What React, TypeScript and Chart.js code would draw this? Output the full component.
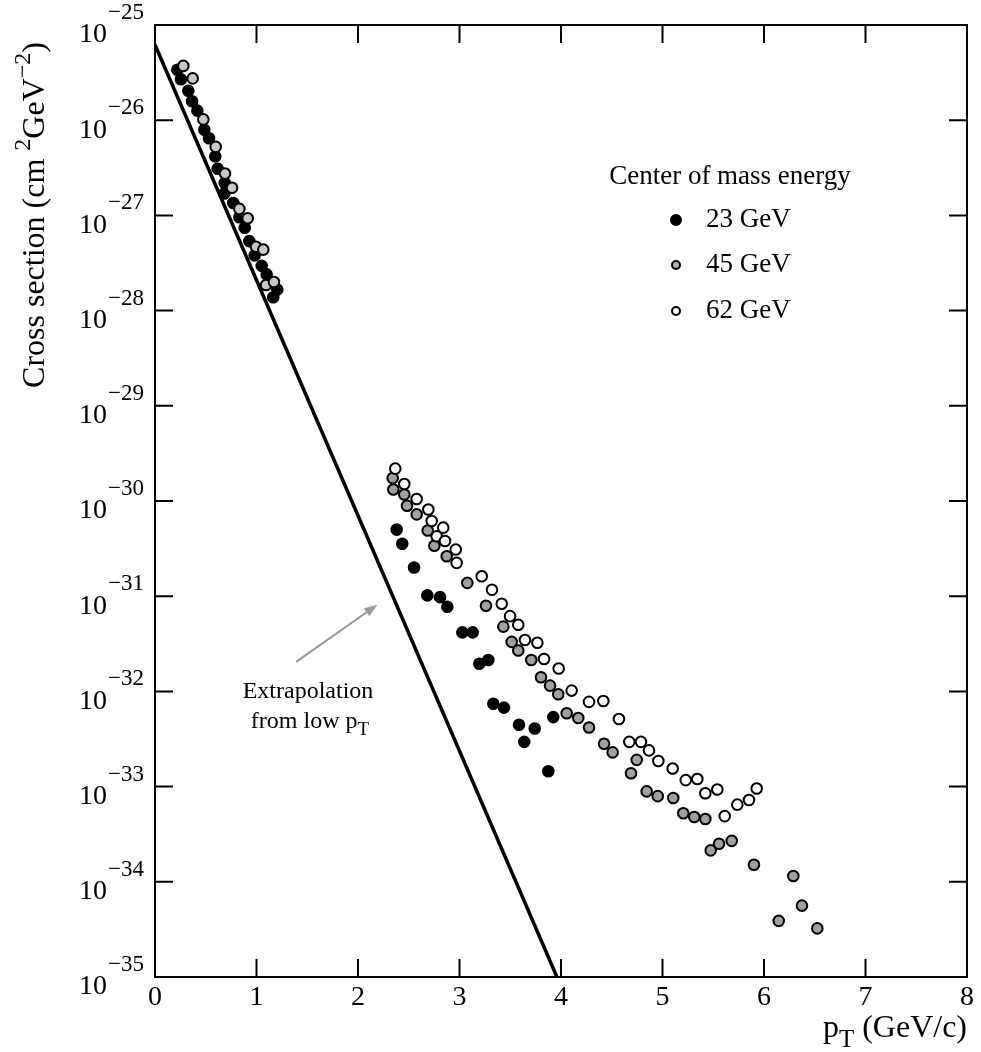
import React, { useEffect, useRef } from "react";
import { Chart, registerables } from "chart.js";

Chart.register(...registerables);

const FONT = '"Liberation Serif", "Times New Roman", serif';

// 23 GeV (filled black)
const pt23 = [0.22, 0.256, 0.328, 0.365, 0.417, 0.486, 0.532, 0.594, 0.618, 0.687, 0.683, 0.771, 0.831, 0.884, 0.929, 0.982, 1.051, 1.10, 1.15, 1.205, 1.165,
  2.381, 2.436, 2.552, 2.683, 2.808, 2.880, 3.028, 3.130, 3.195, 3.284, 3.333, 3.438, 3.586, 3.741, 3.638, 3.924, 3.875];
const sigma23 = [3.39e-26, 2.69e-26, 2.04e-26, 1.58e-26, 1.26e-26, 7.94e-27, 6.46e-27, 4.17e-27, 3.09e-27, 2.19e-27, 1.70e-27, 1.35e-27, 9.55e-28, 7.41e-28, 5.37e-28, 3.80e-28, 2.95e-28, 2.40e-28, 1.95e-28, 1.66e-28, 1.38e-28,
  5.01e-31, 3.55e-31, 2.00e-31, 1.02e-31, 9.77e-32, 7.76e-32, 4.17e-32, 4.17e-32, 1.95e-32, 2.14e-32, 7.41e-33, 6.76e-33, 4.47e-33, 4.07e-33, 2.95e-33, 5.37e-33, 1.45e-33];

// 45 GeV (grey)
const pt45 = [0.279, 0.371, 0.476, 0.598, 0.690, 0.759, 0.831, 0.913, 0.995, 1.067, 1.094, 1.172,
  2.342, 2.348, 2.456, 2.483, 2.578, 2.687, 2.752, 2.874, 3.077, 3.261, 3.432, 3.514, 3.579, 3.707, 3.803, 3.892, 3.973, 4.056, 4.170, 4.276, 4.424, 4.509, 4.690, 4.746, 4.844, 4.953, 5.106, 5.205, 5.313, 5.422, 5.475, 5.557, 5.682, 5.901, 6.145, 6.289, 6.374, 6.525];
const sigma45 = [3.72e-26, 2.75e-26, 1.02e-26, 5.25e-27, 2.75e-27, 1.95e-27, 1.17e-27, 9.33e-28, 4.68e-28, 4.37e-28, 1.86e-28, 2.00e-28,
  1.74e-30, 1.32e-30, 1.17e-30, 8.91e-31, 7.24e-31, 4.90e-31, 3.39e-31, 2.63e-31, 1.38e-31, 7.94e-32, 4.79e-32, 3.31e-32, 2.69e-32, 2.14e-32, 1.41e-32, 1.15e-32, 9.33e-33, 5.89e-33, 5.25e-33, 4.17e-33, 2.82e-33, 2.29e-33, 1.38e-33, 1.91e-33, 8.91e-34, 7.94e-34, 7.59e-34, 5.25e-34, 4.79e-34, 4.57e-34, 2.14e-34, 2.51e-34, 2.69e-34, 1.51e-34, 3.89e-35, 1.15e-34, 5.62e-35, 3.24e-35];

// 62 GeV (open)
const pt62 = [2.367, 2.456, 2.578, 2.693, 2.726, 2.840, 2.775, 2.857, 2.963, 2.972, 3.219, 3.320, 3.416, 3.498, 3.579, 3.645, 3.767, 3.833, 3.977, 4.105, 4.276, 4.417, 4.571, 4.673, 4.788, 4.867, 4.959, 5.100, 5.229, 5.343, 5.422, 5.540, 5.613, 5.737, 5.852, 5.928];
const sigma62 = [2.19e-30, 1.51e-30, 1.05e-30, 8.13e-31, 6.17e-31, 5.25e-31, 4.27e-31, 3.80e-31, 3.09e-31, 2.24e-31, 1.62e-31, 1.17e-31, 8.32e-32, 6.17e-32, 5.01e-32, 3.47e-32, 3.24e-32, 2.19e-32, 1.74e-32, 1.02e-32, 7.76e-33, 7.94e-33, 5.13e-33, 2.95e-33, 2.95e-33, 2.40e-33, 1.86e-33, 1.55e-33, 1.17e-33, 1.20e-33, 8.51e-34, 9.33e-34, 4.90e-34, 6.46e-34, 7.24e-34, 9.55e-34];

// Extrapolation line from low pT
const extrapPt = [0, 3.96];
const extrapSigma = [6.2e-26, 1e-35];

// Arrow (tail -> head) in data coordinates
const arrowPt = [1.39, 2.19];
const arrowSigma = [2.04e-32, 8.13e-32];

const xTickValues = [0, 1, 2, 3, 4, 5, 6, 7, 8];
const xTickLabels = ["0", "1", "2", "3", "4", "5", "6", "7", "8"];
const yTickValues = [1e-25, 1e-26, 1e-27, 1e-28, 1e-29, 1e-30, 1e-31, 1e-32, 1e-33, 1e-34, 1e-35];
const yTickExponents = ["\u221225", "\u221226", "\u221227", "\u221228", "\u221229", "\u221230", "\u221231", "\u221232", "\u221233", "\u221234", "\u221235"];

const legendLabels = ["23 GeV", "45 GeV", "62 GeV"];
const legendFills = ["#000000", "#b0b0b0", "#ffffff"];

type Part = { text: string; size: number; dy: number };

function partsWidth(ctx: CanvasRenderingContext2D, parts: Part[]) {
  let w = 0;
  for (const p of parts) {
    ctx.font = `${p.size}px ${FONT}`;
    w += ctx.measureText(p.text).width;
  }
  return w;
}

function drawParts(ctx: CanvasRenderingContext2D, parts: Part[], x: number, y: number, align: "left" | "center" | "right") {
  const w = partsWidth(ctx, parts);
  let cx = align === "left" ? x : align === "center" ? x - w / 2 : x - w;
  ctx.textAlign = "left";
  ctx.textBaseline = "middle";
  for (const p of parts) {
    ctx.font = `${p.size}px ${FONT}`;
    ctx.fillText(p.text, cx, y + p.dy);
    cx += ctx.measureText(p.text).width;
  }
}

const decor = {
  id: "decor",
  afterDraw(chart: any) {
    const ctx: CanvasRenderingContext2D = chart.ctx;
    const xs = chart.scales.x;
    const ys = chart.scales.y;
    const { left, right, top, bottom } = chart.chartArea;
    const tl = 18;
    ctx.save();
    ctx.fillStyle = "#000";
    ctx.strokeStyle = "#000";
    // frame
    ctx.lineWidth = 2;
    ctx.strokeRect(left, top, right - left, bottom - top);
    // y ticks
    yTickValues.forEach((v, i) => {
      const y = ys.getPixelForValue(v);
      if (i > 0 && i < yTickValues.length - 1) {
        ctx.beginPath();
        ctx.moveTo(left, y);
        ctx.lineTo(left + tl, y);
        ctx.moveTo(right, y);
        ctx.lineTo(right - tl, y);
        ctx.stroke();
      }
      ctx.font = `28px ${FONT}`;
      const w10 = ctx.measureText("10").width;
      const x0 = 79;
      ctx.textAlign = "left";
      ctx.textBaseline = "middle";
      ctx.fillText("10", x0, y + 10);
      ctx.font = `23px ${FONT}`;
      ctx.fillText(yTickExponents[i], x0 + w10 + 1, y - 12);
    });
    // x ticks
    xTickValues.forEach((v, i) => {
      const x = xs.getPixelForValue(v);
      if (i > 0 && i < xTickValues.length - 1) {
        ctx.beginPath();
        ctx.moveTo(x, bottom);
        ctx.lineTo(x, bottom - tl);
        ctx.moveTo(x, top);
        ctx.lineTo(x, top + tl);
        ctx.stroke();
      }
      ctx.font = `28px ${FONT}`;
      ctx.textAlign = "center";
      ctx.textBaseline = "middle";
      ctx.fillText(xTickLabels[i], x, bottom + 21);
    });
    // x title
    drawParts(ctx, [
      { text: "p", size: 32, dy: 0 },
      { text: "T", size: 25, dy: 11 },
      { text: " (GeV/c)", size: 32, dy: 0 },
    ], right, bottom + 52, "right");
    // y title
    ctx.save();
    ctx.translate(36, 215);
    ctx.rotate(-Math.PI / 2);
    drawParts(ctx, [
      { text: "Cross section (cm ", size: 32, dy: 0 },
      { text: "2", size: 24, dy: -12 },
      { text: "GeV", size: 32, dy: 0 },
      { text: "\u22122", size: 24, dy: -12 },
      { text: ")", size: 32, dy: 0 },
    ], 0, 0, "center");
    ctx.restore();
    // legend
    ctx.font = `27px ${FONT}`;
    ctx.textAlign = "center";
    ctx.textBaseline = "middle";
    ctx.fillText("Center of mass energy", 730, 177);
    const ly = [220, 265, 311];
    const lr = [6, 5, 5];
    legendLabels.forEach((lab, i) => {
      ctx.beginPath();
      ctx.arc(676, ly[i], lr[i] - 1, 0, Math.PI * 2);
      ctx.fillStyle = legendFills[i];
      ctx.fill();
      ctx.lineWidth = 2;
      ctx.strokeStyle = "#000";
      ctx.stroke();
      ctx.fillStyle = "#000";
      ctx.font = `27px ${FONT}`;
      ctx.textAlign = "left";
      ctx.fillText(lab, 706, ly[i]);
    });
    // arrow
    const ax0 = xs.getPixelForValue(arrowPt[0]);
    const ay0 = ys.getPixelForValue(arrowSigma[0]);
    const ax1 = xs.getPixelForValue(arrowPt[1]);
    const ay1 = ys.getPixelForValue(arrowSigma[1]);
    const ang = Math.atan2(ay1 - ay0, ax1 - ax0);
    const hl = 14;
    ctx.strokeStyle = "#999";
    ctx.fillStyle = "#999";
    ctx.lineWidth = 2;
    ctx.beginPath();
    ctx.moveTo(ax0, ay0);
    ctx.lineTo(ax1 - Math.cos(ang) * hl * 0.8, ay1 - Math.sin(ang) * hl * 0.8);
    ctx.stroke();
    ctx.beginPath();
    ctx.moveTo(ax1, ay1);
    ctx.lineTo(ax1 - hl * Math.cos(ang - 0.35), ay1 - hl * Math.sin(ang - 0.35));
    ctx.lineTo(ax1 - hl * Math.cos(ang + 0.35), ay1 - hl * Math.sin(ang + 0.35));
    ctx.closePath();
    ctx.fill();
    // annotation text
    ctx.fillStyle = "#000";
    ctx.font = `24px ${FONT}`;
    ctx.textAlign = "center";
    ctx.textBaseline = "middle";
    ctx.fillText("Extrapolation", 308, 692);
    drawParts(ctx, [
      { text: "from low p", size: 24, dy: 0 },
      { text: "T", size: 19, dy: 8 },
    ], 310, 722, "center");
    ctx.restore();
  },
};

export default function App() {
  const ref = useRef<HTMLCanvasElement | null>(null);
  useEffect(() => {
    if (!ref.current) return;
    const mk = (xsArr: number[], ysArr: number[]) => xsArr.map((x, i) => ({ x, y: ysArr[i] }));
    const chart = new Chart(ref.current, {
      type: "scatter",
      data: {
        datasets: [
          {
            label: "62 GeV",
            data: mk(pt62, sigma62),
            pointRadius: 5.3,
            pointBorderWidth: 2,
            pointBackgroundColor: "#ffffff",
            pointBorderColor: "#000000",
            order: 1,
          },
          {
            label: "45 GeV",
            data: mk(pt45, sigma45),
            pointRadius: 5.3,
            pointBorderWidth: 2,
            pointBackgroundColor: (c: any) => (c.raw && c.raw.x < 2 ? "#c8c8c8" : "#a0a0a0"),
            pointBorderColor: "#000000",
            order: 2,
          },
          {
            label: "23 GeV",
            data: mk(pt23, sigma23),
            pointRadius: 5.3,
            pointBorderWidth: 2,
            pointBackgroundColor: "#000000",
            pointBorderColor: "#000000",
            order: 3,
          },
          {
            label: "Extrapolation",
            data: mk(extrapPt, extrapSigma),
            showLine: true,
            pointRadius: 0,
            borderColor: "#000000",
            borderWidth: 3.5,
            order: 4,
          },
        ],
      },
      options: {
        responsive: false,
        animation: false,
        events: [],
        layout: { padding: { left: 155, right: 14, top: 25, bottom: 75 } },
        plugins: { legend: { display: false }, tooltip: { enabled: false } },
        scales: {
          x: { type: "linear", min: 0, max: 8, display: false },
          y: { type: "logarithmic", min: 1e-35, max: 1e-25, display: false },
        },
      },
      plugins: [decor],
    } as any);
    return () => chart.destroy();
  }, []);
  return (
    <div style={{ position: "fixed", left: 0, top: 0, width: 981, height: 1052, background: "#fff" }}>
      <canvas ref={ref} width={981} height={1052} style={{ display: "block" }} />
    </div>
  );
}
